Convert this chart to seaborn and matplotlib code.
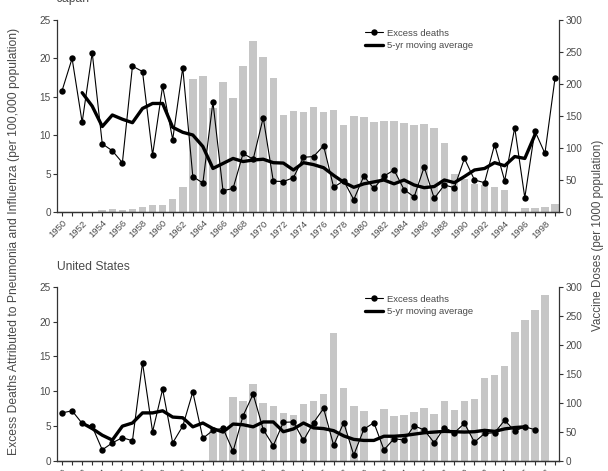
import matplotlib
matplotlib.use('Agg')
import matplotlib.pyplot as plt
import seaborn as sns
from matplotlib.lines import Line2D
from matplotlib.ticker import MultipleLocator

# ---- Japon ----
annees_jp = list(range(1950, 2000))
deces_jp = [15.8, 20.0, 11.7, 20.75, 8.9, 8.0, 6.45, 19.0, 18.3, 7.45,
            16.4, 9.45, 18.8, 4.65, 3.8, 14.35, 2.8, 3.1, 7.65, 6.9,
            12.3, 4.05, 4.0, 4.5, 7.15, 7.25, 8.65, 3.25, 4.1, 1.65,
            4.7, 3.1, 4.7, 5.5, 2.95, 2.0, 5.9, 1.8, 3.55, 3.2,
            7.0, 4.2, 3.85, 8.8, 4.1, 11.0, 1.9, 10.6, 7.65, 17.4]
annees_mm_jp = list(range(1952, 1998))
moy_mobile_jp = [15.55, 13.8, 11.15, 12.65, 12.1, 11.65, 13.5, 14.15,
                 14.15, 11.05, 10.4, 10.05, 8.55, 5.7, 6.35, 7.0, 6.6, 6.8,
                 6.9, 6.45, 6.4, 5.5, 6.45, 6.2, 5.8, 4.8, 3.9, 3.25,
                 3.7, 3.95, 4.2, 3.7, 4.2, 3.55, 3.2, 3.35, 4.2, 3.85,
                 4.65, 5.5, 5.7, 6.45, 6.05, 7.25, 7.0, 10.05]
annees_vacc_jp = [1954, 1955, 1956, 1957, 1958, 1959, 1960, 1961, 1962, 1963,
                  1964, 1965, 1966, 1967, 1968, 1969, 1970, 1971, 1972, 1973,
                  1974, 1975, 1976, 1977, 1978, 1979, 1980, 1981, 1982, 1983,
                  1984, 1985, 1986, 1987, 1988, 1989, 1990, 1991, 1992, 1993,
                  1994, 1996, 1997, 1998, 1999]
doses_jp = [3.6, 5, 3.6, 5, 9, 12, 12, 20, 40, 208,
            212, 162, 203, 179, 228, 268, 243, 210, 152, 158,
            157, 165, 157, 160, 136, 151, 148, 141, 142, 142,
            139, 136, 137, 131, 108, 59, 52, 44, 43, 39,
            35, 7, 7, 8, 13.5]

# ---- Etats-Unis ----
annees_us = list(range(1950, 1998))
deces_us = [6.9, 7.2, 5.4, 4.95, 1.6, 2.6, 3.35, 2.9, 14.1, 4.2,
            10.3, 2.6, 5.0, 9.9, 3.25, 4.4, 4.7, 1.4, 6.5, 9.6,
            4.5, 2.2, 5.55, 5.6, 2.95, 5.5, 7.55, 2.25, 5.5, 0.85,
            4.55, 5.5, 1.6, 3.2, 3.0, 5.05, 4.45, 2.6, 4.8, 4.05,
            5.4, 2.7, 3.95, 4.05, 5.85, 4.3, 4.9, 4.5]
annees_mm_us = list(range(1952, 1997))
moy_mobile_us = [5.45, 4.65, 3.7, 3.0, 5.0, 5.45, 6.9, 6.9,
                 7.2, 6.3, 6.2, 4.9, 5.45, 4.65, 4.15, 5.3, 5.2, 4.9,
                 5.6, 5.6, 4.2, 4.6, 5.45, 4.75, 4.65, 4.35, 3.6, 3.1,
                 2.95, 2.95, 3.55, 3.55, 3.65, 3.85, 4.05, 4.15, 4.25, 4.2,
                 4.15, 4.2, 4.4, 4.25, 4.6, 4.8, 4.9]
annees_vacc_us = [1965, 1966, 1967, 1968, 1969, 1970, 1971, 1972, 1973, 1974,
                  1975, 1976, 1977, 1978, 1979, 1980, 1982, 1983, 1984, 1985,
                  1986, 1987, 1988, 1989, 1990, 1991, 1992, 1993, 1994, 1995,
                  1996, 1997, 1998]
doses_us = [52, 50, 110, 103, 132, 100, 95, 83, 80, 98,
            103, 116, 220, 126, 95, 86, 90, 78, 80, 85,
            91, 81, 103, 87, 103, 106, 143, 148, 163, 222,
            243, 260, 285]

gris_barres = '#c6c6c6'
gris_texte = '#4a4a4a'
gris_axes = '#333333'

sns.set_style('ticks')
plt.rcParams['font.family'] = ['Liberation Sans', 'DejaVu Sans']
plt.rcParams['text.color'] = gris_texte

fig = plt.figure(figsize=(6.08, 4.71), dpi=100)
ax_jp = fig.add_axes([57 / 608, 1 - 212.3 / 471, 502 / 608, 192.3 / 471])
ax_us = fig.add_axes([57 / 608, 1 - 461 / 471, 502 / 608, 174.3 / 471])


def panneau(ax, annees_vacc, doses, annees, deces, annees_mm, moy_mobile):
    ax2 = ax.twinx()
    sns.barplot(x=annees_vacc, y=doses, native_scale=True, ax=ax2,
                color=gris_barres, saturation=1, width=0.75, linewidth=0)
    sns.lineplot(x=annees, y=deces, ax=ax, color='black', lw=0.8,
                 marker='o', markersize=4.6, markeredgewidth=0)
    sns.lineplot(x=annees_mm, y=moy_mobile, ax=ax, color='black', lw=2.4)
    # les courbes passent devant les barres
    ax.set_zorder(ax2.get_zorder() + 1)
    ax.patch.set_visible(False)

    ax.set_xlim(1949.5, 1999.4)
    ax.set_ylim(0, 25)
    ax2.set_ylim(0, 300)
    ax.set_yticks(range(0, 26, 5))
    ax2.set_yticks(range(0, 301, 50))
    ax.xaxis.set_major_locator(MultipleLocator(2))
    ax.xaxis.set_minor_locator(MultipleLocator(1))
    ax.set_xlabel('')
    ax.set_ylabel('')
    ax2.set_xlabel('')
    ax2.set_ylabel('')

    for a in (ax, ax2):
        a.spines['top'].set_visible(False)
        for s in a.spines.values():
            s.set_color(gris_axes)
            s.set_linewidth(0.9)
        a.tick_params(which='both', length=3, width=0.8, color=gris_axes,
                      labelcolor=gris_texte, labelsize=7.2, pad=1.5)
    ax.spines['right'].set_visible(False)
    ax2.spines['left'].set_visible(False)
    for lab in ax.get_xticklabels():
        lab.set_rotation(45)
        lab.set_ha('right')
        lab.set_rotation_mode('anchor')
        lab.set_fontsize(6.8)

    poignees = [Line2D([], [], color='black', lw=0.8, marker='o', ms=4.6,
                       markeredgewidth=0),
                Line2D([], [], color='black', lw=2.4)]
    ax.legend(poignees, ['Excess deaths', '5-yr moving average'],
              loc='upper left', bbox_to_anchor=(0.613, 0.955), frameon=False,
              fontsize=6.8, handlelength=1.9, handletextpad=0.45,
              labelspacing=0.35, borderpad=0, borderaxespad=0,
              labelcolor=gris_texte)


panneau(ax_jp, annees_vacc_jp, doses_jp, annees_jp, deces_jp,
        annees_mm_jp, moy_mobile_jp)
panneau(ax_us, annees_vacc_us, doses_us, annees_us, deces_us,
        annees_mm_us, moy_mobile_us)

fig.text(57 / 608, 1 - 2 / 471, 'Japan', fontsize=8.7, va='baseline',
         color=gris_texte)
fig.text(57 / 608, 1 - 270 / 471, 'United States', fontsize=8.7,
         va='baseline', color=gris_texte)
fig.text(14 / 608, 1 - 241 / 471,
         'Excess Deaths Attributed to Pneumonia and Influenza (per 100,000 population)',
         rotation=90, va='center', ha='center', fontsize=8.7, color=gris_texte)
fig.text(598 / 608, 1 - 235 / 471, 'Vaccine Doses (per 1000 population)',
         rotation=90, va='center', ha='center', fontsize=8.4, color=gris_texte)

fig.savefig('out.png', dpi=100)
